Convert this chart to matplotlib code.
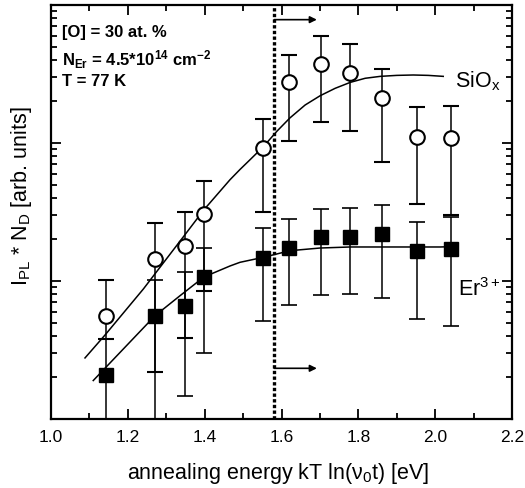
import matplotlib
matplotlib.use("Agg")
import matplotlib.pyplot as plt
from matplotlib.ticker import MultipleLocator, LogLocator, NullFormatter
import numpy as np

plt.rcParams['font.family'] = ['Liberation Sans', 'DejaVu Sans']
plt.rcParams['mathtext.fontset'] = 'custom'
plt.rcParams['mathtext.rm'] = 'Liberation Sans'
plt.rcParams['mathtext.it'] = 'Liberation Sans:italic'
plt.rcParams['mathtext.bf'] = 'Liberation Sans:bold'

# ---- data ----
energy = [1.142, 1.271, 1.349, 1.398, 1.551, 1.620, 1.702, 1.779, 1.862, 1.952, 2.042]

siox_val = [5.58, 14.43, 17.93, 30.6, 92.0, 275.4, 373.6, 321.6, 210.9, 110.0, 108.2]
siox_hi  = [10.17, 26.33, 31.6, 53.0, 149.2, 436.4, 596.5, 521.8, 343.9, 181.4, 184.5]
siox_lo  = [3.80, 2.19, 3.86, 8.46, 31.6, 103.9, 142.7, 122.8, 73.2, 36.1, 30.2]

er_val = [2.08, 5.61, 6.59, 10.69, 14.6, 17.34, 20.9, 20.9, 21.9, 16.4, 17.06]
er_hi  = [3.80, 10.22, 11.62, 17.34, 24.1, 28.1, 33.3, 33.6, 35.5, 26.9, 28.9]
er_lo  = [0.5, 0.5, 1.47, 3.01, 5.16, 6.70, 7.92, 8.05, 7.53, 5.30, 4.72]

siox_fit_x = [1.0885, 1.1406, 1.2404, 1.349, 1.398, 1.466, 1.492, 1.518, 1.553, 1.5878,
              1.622, 1.6615, 1.7005, 1.7396, 1.779, 1.8177, 1.857, 1.900, 1.943, 1.982, 2.021]
siox_fit_y = [2.77, 4.06, 8.75, 21.7, 32.8, 54.2, 64.3, 75.6, 94.2, 121.5,
              152.0, 188.5, 220, 249, 275, 294.4, 304, 309, 311, 309, 304]

er_fit_x = [1.110, 1.271, 1.336, 1.398, 1.466, 1.492, 1.553, 1.622, 1.7005, 1.779, 2.013, 2.057]
er_fit_y = [1.90, 5.61, 7.83, 10.69, 12.85, 13.66, 14.85, 16.58, 17.34, 17.64, 17.64, 17.78]

threshold = 1.581

# ---- figure ----
fig = plt.figure(figsize=(5.25, 4.89), dpi=100)
ax = fig.add_axes([51/525, 1-420/489, 461/525, 414/489])

ax.set_yscale('log')
ax.set_xlim(1.0, 2.2)
ax.set_ylim(1, 1000)

# fit curves
ax.plot(siox_fit_x, siox_fit_y, color='k', lw=1.1, zorder=2)
ax.plot(er_fit_x, er_fit_y, color='k', lw=1.1, zorder=2)

ev = np.array(energy)
sv, sh, sl = np.array(siox_val), np.array(siox_hi), np.array(siox_lo)
ax.errorbar(ev, sv, yerr=[sv - sl, sh - sv], fmt='o', ms=10.5, mfc='white', mec='k',
            mew=1.5, ecolor='k', elinewidth=1.1, capsize=6, capthick=1.2, zorder=3)
erv, erh, erl = np.array(er_val), np.array(er_hi), np.array(er_lo)
ax.errorbar(ev, erv, yerr=[erv - erl, erh - erv], fmt='s', ms=9.5, mfc='k', mec='k',
            ecolor='k', elinewidth=1.1, capsize=6, capthick=1.2, zorder=3)

# threshold line and arrows
ax.axvline(threshold, color='k', lw=2.4, ls=(0, (1.0, 0.7)), zorder=4)
for ya in (783, 2.33):
    ax.annotate('', xy=(1.692, ya), xytext=(threshold, ya),
                arrowprops=dict(arrowstyle='-|>', color='k', lw=1.2,
                                mutation_scale=10, shrinkA=0, shrinkB=0))

# texts
fs_in = 12
ax.text(0.024, 0.937, '[O] = 30 at. %', transform=ax.transAxes, fontsize=fs_in,
        fontweight='bold', va='center', ha='left')
ax.text(0.024, 0.870, r'N$_{\mathbf{Er}}$ = 4.5*10$^{\mathbf{14}}$ cm$^{\mathbf{-2}}$',
        transform=ax.transAxes, fontsize=fs_in, fontweight='bold', va='center', ha='left')
ax.text(0.024, 0.817, 'T = 77 K', transform=ax.transAxes, fontsize=fs_in,
        fontweight='bold', va='center', ha='left')
ax.text(2.052, 257.6, r'SiO$_{\mathrm{x}}$', fontsize=15.5, va='baseline', ha='left')
ax.text(2.060, 7.92, r'Er$^{\mathrm{3+}}$', fontsize=15.5, va='baseline', ha='left')

# ticks
ax.xaxis.set_major_locator(MultipleLocator(0.2))
ax.xaxis.set_minor_locator(MultipleLocator(0.1))
ax.yaxis.set_major_locator(LogLocator(base=10, numticks=10))
ax.yaxis.set_minor_locator(LogLocator(base=10, subs=np.arange(2, 10), numticks=10))
ax.yaxis.set_major_formatter(NullFormatter())
ax.yaxis.set_minor_formatter(NullFormatter())
ax.tick_params(which='both', direction='in', top=True, right=True, width=1.3)
ax.tick_params(which='major', length=7, labelsize=12.5, pad=7)
ax.tick_params(which='minor', length=4)
for s in ax.spines.values():
    s.set_linewidth(1.6)

ax.set_xlabel('annealing energy kT ln(\u03bd$_{\\mathrm{0}}$t) [eV]', fontsize=15.5)
ax.set_ylabel(r'I$_{\mathrm{PL}}$ * N$_{\mathrm{D}}$ [arb. units]', fontsize=15.5)
ax.xaxis.set_label_coords(0.493, -0.1)
ax.yaxis.set_label_coords(-0.036, 0.54)

fig.savefig('out.png', dpi=100)
